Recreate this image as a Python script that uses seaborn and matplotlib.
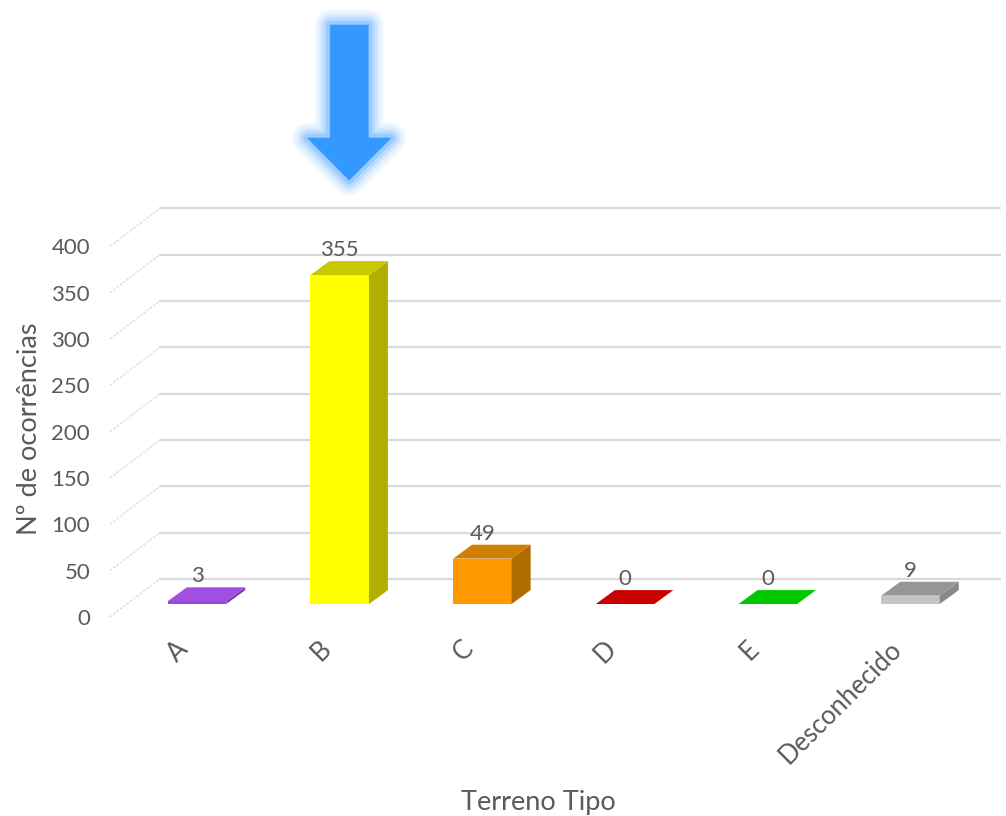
import matplotlib
matplotlib.use("Agg")
import matplotlib.pyplot as plt
import matplotlib.transforms as mtransforms
import matplotlib.patheffects as pe
from matplotlib.patches import Polygon
import numpy as np
import pandas as pd
import seaborn as sns

# dados
categorias = ["A", "B", "C", "D", "E", "Desconhecido"]
ocorrencias = [3, 355, 49, 0, 0, 9]
ticks_y = [0, 50, 100, 150, 200, 250, 300, 350, 400]

# cores das faces (frente, topo, lado)
cor_frente = ["#9a48d8", "#ffff00", "#ff9900", "#c00000", "#00c000", "#c4c4c4"]
cor_topo = ["#a050e0", "#c8c800", "#d08000", "#c80000", "#00c800", "#969696"]
cor_lado = ["#7a34b0", "#b0b000", "#b06c00", "#900000", "#009000", "#888888"]

TXT = "#5a5a5a"
DX, DY = 0.133, 15          # profundidade das barras (unid. categoria / valor)
WALL_UP, FRONT_DOWN = 27, -14
X_WALL, X_FRONT, X_RIGHT = -0.26, -0.61, 5.63

sns.set_style("white")
plt.rcParams["font.family"] = ["Lato", "DejaVu Sans"]

fig = plt.figure(figsize=(10.06, 8.16), dpi=100)
ax = fig.add_axes([0.1249, 0.2598, 0.8511, 0.5110])

df = pd.DataFrame({"tipo": categorias, "n": ocorrencias})
sns.barplot(data=df, x="tipo", y="n", hue="tipo", palette=cor_frente,
            width=0.41, saturation=1, legend=False, ax=ax, zorder=3)
ax.set_xlim(-0.5, 5.5)
ax.set_ylim(0, 450)

# parede do fundo e lateral
for v in ticks_y:
    ax.plot([X_WALL, X_RIGHT], [v + WALL_UP] * 2, color="#d9d9d9", lw=1.6,
            zorder=1, clip_on=False)
    ax.plot([X_FRONT, X_WALL], [v + FRONT_DOWN, v + WALL_UP], color="#dedede",
            lw=1.0, ls=(0, (2, 1)), zorder=1, clip_on=False)

# faces 3D
barras = sorted(ax.patches, key=lambda p: p.get_x())
for i, p in enumerate(barras):
    x0, w, h = p.get_x(), p.get_width(), p.get_height()
    p.set_edgecolor("none")
    topo = [(x0, h), (x0 + w, h), (x0 + w + DX, h + DY), (x0 + DX, h + DY)]
    lado = [(x0 + w, 0), (x0 + w + DX, DY), (x0 + w + DX, h + DY), (x0 + w, h)]
    ax.add_patch(Polygon(lado, closed=True, facecolor=cor_lado[i], edgecolor="none", zorder=3))
    ax.add_patch(Polygon(topo, closed=True, facecolor=cor_topo[i], edgecolor="none", zorder=4))
    ax.annotate(str(ocorrencias[i]), xy=(x0 + w / 2, h), xytext=(0, 18),
                textcoords="offset points", ha="center", va="center",
                fontsize=16, color=TXT, zorder=5)

# seta azul sobre a barra B
px = 1 / 100
cx = 9.5
seta = np.array([(cx - 19, 250), (cx + 19, 250), (cx + 19, 137), (cx + 41.5, 137),
                 (cx, 95), (cx - 41.5, 137), (cx - 19, 137)]) * px
tr = fig.dpi_scale_trans + mtransforms.ScaledTranslation(1, ocorrencias[1], ax.transData)
brilho = []
for lw, cor in [(22, "#f0f7ff"), (18, "#e2f0ff"), (14, "#cfe6ff"), (10, "#b8daff"), (6, "#9ccbff")]:
    brilho.append(pe.Stroke(linewidth=lw, foreground=cor, joinstyle="round"))
brilho.append(pe.Normal())
ax.add_patch(Polygon(seta, closed=True, facecolor="#3399ff", edgecolor="#3399ff",
                     lw=0.5, transform=tr, clip_on=False, zorder=6,
                     path_effects=brilho))

# eixos
for s in ax.spines.values():
    s.set_visible(False)
ax.set_yticks(ticks_y)
ax.set_yticklabels([str(t) for t in ticks_y])
ax.tick_params(axis="y", length=0, pad=25.6, labelsize=16, labelcolor=TXT)
ax.tick_params(axis="x", length=0, pad=29.5, labelsize=18.5, labelcolor=TXT)
ax.set_xticks(range(len(categorias)))
ax.set_xticklabels(categorias)

desl_y = mtransforms.ScaledTranslation(0, -13 * px, fig.dpi_scale_trans)
for t in ax.yaxis.get_major_ticks():
    t.label1.set_transform(t.label1.get_transform() + desl_y)
desl_x = mtransforms.ScaledTranslation(-13 * px, 0, fig.dpi_scale_trans)
for t in ax.xaxis.get_major_ticks():
    t.label1.set_transform(t.label1.get_transform() + desl_x)
    t.label1.set_rotation(45)
    t.label1.set_ha("right")
    t.label1.set_va("center")
    t.label1.set_rotation_mode("anchor")

ax.set_ylabel("Nº de ocorrências", fontsize=19.5, color=TXT)
ax.yaxis.set_label_coords(-0.0977, 0.42)
ax.set_xlabel("Terreno Tipo", fontsize=19.5, color=TXT)
ax.xaxis.set_label_coords(0.4817, -0.446)

fig.savefig("out.png", dpi=100)
